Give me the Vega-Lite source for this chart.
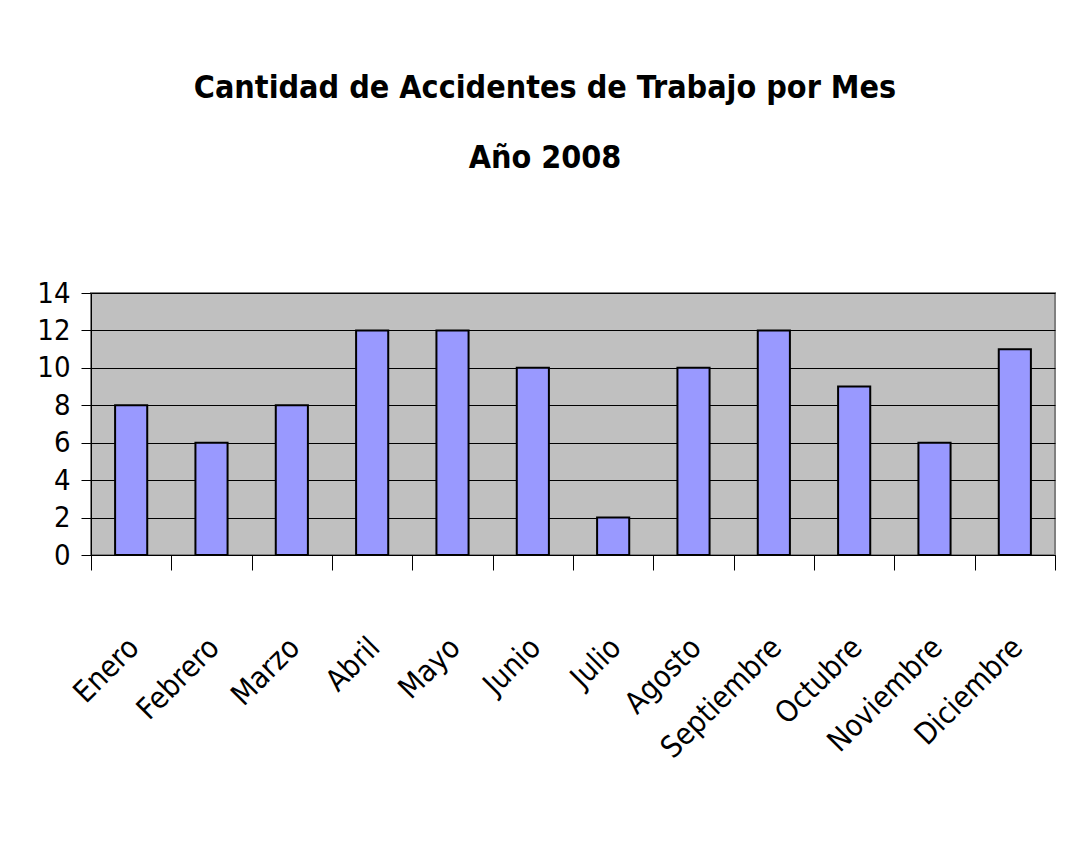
{
  "$schema": "https://vega.github.io/schema/vega-lite/v6.json",
  "autosize": {"type": "none"},
  "width": 964,
  "height": 262,
  "padding": {"left": 91, "top": 293, "right": 12, "bottom": 290},
  "background": "white",
  "title": {
    "text": ["Cantidad de Accidentes de Trabajo por Mes", "Año 2008"],
    "font": "DejaVu Sans Condensed",
    "fontSize": 32,
    "fontWeight": "bold",
    "color": "black",
    "lineHeight": 70,
    "anchor": "middle",
    "dx": -28,
    "offset": 104
  },
  "data": {
    "values": [
      {"mes": "Enero", "accidentes": 8},
      {"mes": "Febrero", "accidentes": 6},
      {"mes": "Marzo", "accidentes": 8},
      {"mes": "Abril", "accidentes": 12},
      {"mes": "Mayo", "accidentes": 12},
      {"mes": "Junio", "accidentes": 10},
      {"mes": "Julio", "accidentes": 2},
      {"mes": "Agosto", "accidentes": 10},
      {"mes": "Septiembre", "accidentes": 12},
      {"mes": "Octubre", "accidentes": 9},
      {"mes": "Noviembre", "accidentes": 6},
      {"mes": "Diciembre", "accidentes": 11}
    ]
  },
  "mark": {"type": "bar", "color": "#9999FF", "stroke": "black", "strokeWidth": 2, "width": {"band": 0.4}},
  "encoding": {
    "x": {
      "field": "mes",
      "type": "nominal",
      "sort": null,
      "title": null,
      "scale": {"paddingInner": 0, "paddingOuter": 0},
      "axis": {
        "labelAngle": -45,
        "labelAlign": "right",
        "labelBaseline": "top",
        "labelFont": "DejaVu Sans Condensed",
        "labelFontSize": 30,
        "labelColor": "black",
        "labelPadding": 62,
        "labelOffset": -8,
        "tickBand": "extent",
        "tickSize": 15,
        "tickColor": "black",
        "domainColor": "black",
        "grid": false
      }
    },
    "y": {
      "field": "accidentes",
      "type": "quantitative",
      "title": null,
      "scale": {"domain": [0, 14], "nice": false},
      "axis": {
        "values": [0, 2, 4, 6, 8, 10, 12, 14],
        "labelFont": "DejaVu Sans Condensed",
        "labelFontSize": 29,
        "labelColor": "black",
        "labelPadding": 11,
        "tickSize": 10,
        "tickColor": "black",
        "domainColor": "black",
        "grid": true,
        "gridColor": "black",
        "gridOpacity": 1,
        "gridWidth": 1
      }
    }
  },
  "config": {
    "view": {"fill": "#C0C0C0", "stroke": "#808080", "strokeWidth": 2}
  }
}
